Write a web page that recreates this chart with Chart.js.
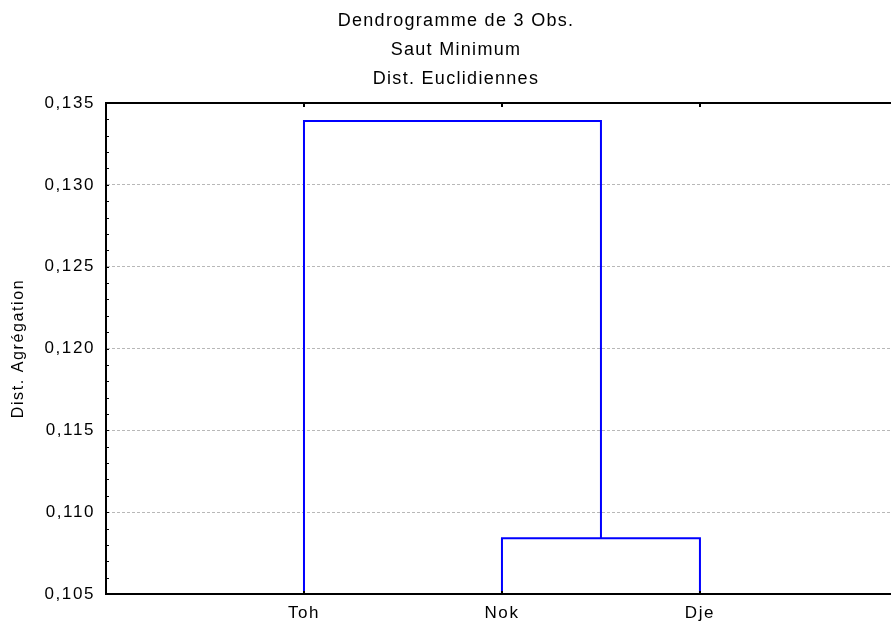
<!DOCTYPE html>
<html>
<head>
<meta charset="utf-8">
<script src="https://cdn.jsdelivr.net/npm/chart.js@4.4.1/dist/chart.umd.min.js"></script>
<style>
  html, body { margin: 0; padding: 0; background: #fff; }
  canvas { display: block; }
</style>
</head>
<body>
<canvas id="c" width="891" height="626"></canvas>
<script>
// Observations (leaves), in display order along the x axis
const leafLabels = ['Toh', 'Nok', 'Dje'];
// Agglomeration steps: pairs of cluster ids (0..2 = leaves, 3 = first merged cluster)
const mergePairs = [[1, 2], [0, 3]];
// Linkage distance at each agglomeration step
const mergeHeights = [0.1084, 0.1339];
// Y axis tick values and their labels
const yTickValues = [0.105, 0.110, 0.115, 0.120, 0.125, 0.130, 0.135];
const yTickLabels = ['0,105', '0,110', '0,115', '0,120', '0,125', '0,130', '0,135'];
const titleLines = ['Dendrogramme de 3 Obs.', 'Saut Minimum', 'Dist. Euclidiennes'];
const yAxisTitle = 'Dist. Agrégation';

const Y_MIN = 0.105, Y_MAX = 0.135;
const FONT = "'Liberation Sans', Arial, sans-serif";

// Build one U-shaped link per agglomeration step
const nodeX = leafLabels.map((_, i) => i + 1);
const nodeH = leafLabels.map(() => Y_MIN);
const linkDatasets = mergePairs.map(([a, b], k) => {
  const h = mergeHeights[k];
  const pts = [
    { x: nodeX[a], y: nodeH[a] },
    { x: nodeX[a], y: h },
    { x: nodeX[b], y: h },
    { x: nodeX[b], y: nodeH[b] }
  ];
  nodeX.push((nodeX[a] + nodeX[b]) / 2);
  nodeH.push(h);
  return {
    data: pts,
    borderColor: '#0000ff',
    borderWidth: 2,
    pointRadius: 0,
    tension: 0,
    fill: false
  };
});

// Title lines, frame top edge and the small inner tick marks
const framePlugin = {
  id: 'frame',
  beforeDraw(chart) {
    chart.ctx.letterSpacing = '1.6px';
  },
  afterDraw(chart) {
    const { ctx, chartArea: ca, scales } = chart;
    ctx.save();
    ctx.fillStyle = '#000';
    ctx.letterSpacing = '1.3px';
    ctx.font = '18px ' + FONT;
    ctx.textAlign = 'center';
    ctx.textBaseline = 'middle';
    const ty = [21, 50, 79];
    titleLines.forEach((t, i) => ctx.fillText(t, 456, ty[i]));

    ctx.strokeStyle = '#000';
    // top frame line
    ctx.lineWidth = 2;
    ctx.beginPath();
    ctx.moveTo(ca.left - 1, ca.top);
    ctx.lineTo(ca.right, ca.top);
    ctx.stroke();

    // minor ticks inside the left axis
    ctx.lineWidth = 1;
    const y = scales.y;
    y.ticks.forEach(t => {
      const py = Math.round(y.getPixelForValue(t.value)) + 0.5;
      ctx.beginPath();
      ctx.moveTo(ca.left, py);
      ctx.lineTo(ca.left + 3, py);
      ctx.stroke();
    });

    // category ticks inside top and bottom edges
    ctx.lineWidth = 2;
    const x = scales.x;
    leafLabels.forEach((_, i) => {
      const px = Math.round(x.getPixelForValue(i + 1));
      ctx.beginPath();
      ctx.moveTo(px, ca.top);
      ctx.lineTo(px, ca.top + 4);
      ctx.moveTo(px, ca.bottom);
      ctx.lineTo(px, ca.bottom - 3);
      ctx.stroke();
    });
    ctx.restore();
  }
};

const isMajor = v => yTickValues.some(m => Math.abs(m - v) < 1e-9);

new Chart(document.getElementById('c'), {
  type: 'line',
  data: { datasets: linkDatasets },
  plugins: [framePlugin],
  options: {
    responsive: false,
    animation: false,
    layout: { padding: { top: 103, right: 0, bottom: 0, left: 0 } },
    plugins: {
      legend: { display: false },
      title: { display: false },
      tooltip: { enabled: false }
    },
    scales: {
      x: {
        type: 'linear',
        min: 0,
        max: 3.965,
        afterBuildTicks: s => { s.ticks = leafLabels.map((_, i) => ({ value: i + 1 })); },
        afterFit: s => { s.height = 32; },
        ticks: {
          autoSkip: false,
          maxRotation: 0,
          padding: 9,
          color: '#000',
          font: { family: FONT, size: 17 },
          callback: v => leafLabels[v - 1]
        },
        grid: { display: false, drawTicks: false },
        border: { display: true, color: '#000', width: 2 }
      },
      y: {
        type: 'linear',
        min: Y_MIN,
        max: Y_MAX,
        afterBuildTicks: s => {
          const t = [];
          for (let i = 0; i <= 30; i++) t.push({ value: +(Y_MIN + i * 0.001).toFixed(3) });
          s.ticks = t;
        },
        afterFit: s => { s.width = 106; },
        ticks: {
          autoSkip: false,
          padding: 11,
          color: '#000',
          font: { family: FONT, size: 17 },
          callback: v => {
            const i = yTickValues.findIndex(m => Math.abs(m - v) < 1e-9);
            return i >= 0 ? yTickLabels[i] : '';
          }
        },
        grid: {
          drawTicks: false,
          lineWidth: 1,
          color: c => {
            const v = c.tick ? c.tick.value : null;
            if (v === null || !isMajor(v)) return 'rgba(0,0,0,0)';
            if (Math.abs(v - Y_MIN) < 1e-9 || Math.abs(v - Y_MAX) < 1e-9) return 'rgba(0,0,0,0)';
            return '#b8b8b8';
          }
        },
        // in Chart.js v4 border.dash sets the dash pattern of the grid lines
        border: { display: true, color: '#000', width: 2, dash: [3, 2] },
        title: {
          display: true,
          text: yAxisTitle,
          color: '#000',
          font: { family: FONT, size: 16 },
          padding: { top: 9, bottom: 0 }
        }
      }
    }
  }
});
</script>
</body>
</html>
